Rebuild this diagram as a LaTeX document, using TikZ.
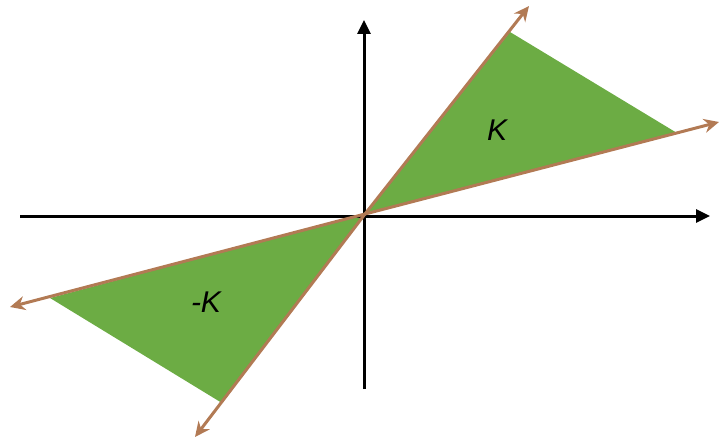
\documentclass[tikz,border=0pt]{standalone}
\usepackage{fontspec}
\setmainfont{Liberation Sans}
\usetikzlibrary{calc, positioning}
\usetikzlibrary{arrows.meta}

\definecolor{conegreen}{RGB}{108,172,68}
\definecolor{raybrown}{RGB}{178,122,84}

\begin{document}
\begin{tikzpicture}[x=1pt, y=-1pt]
\useasboundingbox (0,0) rectangle (720,441);

\coordinate (O) at (365,214);

% axes
\coordinate (Xl) at (20,216);
\coordinate (Xr) at (710,216);
\coordinate (Yb) at (364,389);
\coordinate (Yt) at (364,20);

% cone K and -K
\coordinate (Ka) at (510,32);
\coordinate (Kb) at (677,133);
\coordinate (Ma) at (50,298);
\coordinate (Mb) at (222,403);

% ray ends
\coordinate (Ta) at (529,6);
\coordinate (Tb) at (719,122);
\coordinate (Sa) at (10,307);
\coordinate (Sb) at (195,437);

\fill[conegreen] (O) -- (Ka) -- (Kb) -- cycle;
\fill[conegreen] (O) -- (Ma) -- (Mb) -- cycle;

\draw[line width=3pt, -{Triangle[length=14pt, width=13pt]}] (Xl) -- (Xr);
\draw[line width=3pt, -{Triangle[length=14pt, width=13pt]}] (Yb) -- (Yt);

\draw[raybrown, line width=3pt, -{Stealth[length=15pt, width=14pt]}] (O) -- (Ta);
\draw[raybrown, line width=3pt, -{Stealth[length=15pt, width=14pt]}] (O) -- (Tb);
\draw[raybrown, line width=3pt, -{Stealth[length=15pt, width=14pt]}] (O) -- (Sa);
\draw[raybrown, line width=3pt, -{Stealth[length=15pt, width=14pt]}] (O) -- (Sb);

\node (K) at (497,130) {\fontsize{30}{36}\selectfont\itshape K};
\node (mK) at (206,302) {\fontsize{30}{36}\selectfont\itshape -K};
\end{tikzpicture}
\end{document}
